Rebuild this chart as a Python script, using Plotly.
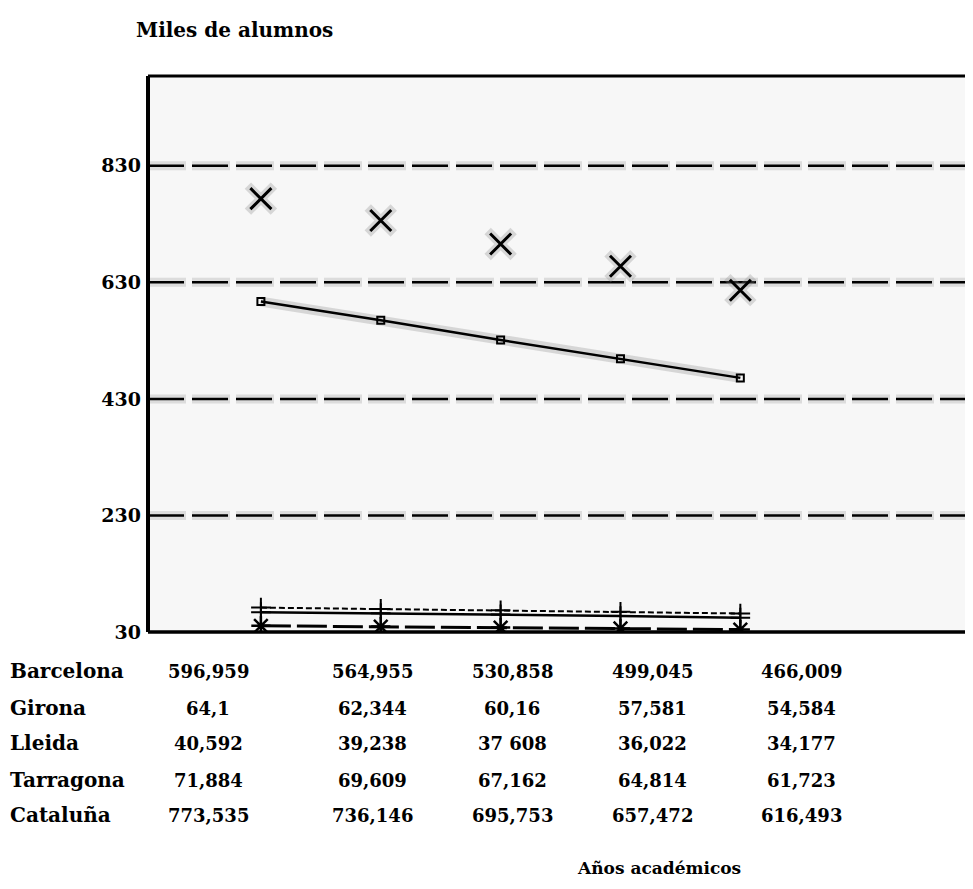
import plotly.graph_objects as go

# ---- data ----
years = [1, 2, 3, 4, 5]
barcelona = [596.959, 564.955, 530.858, 499.045, 466.009]
girona = [64.1, 62.344, 60.16, 57.581, 54.584]
lleida = [40.592, 39.238, 37.608, 36.022, 34.177]
tarragona = [71.884, 69.609, 67.162, 64.814, 61.723]
cataluna = [773.535, 736.146, 695.753, 657.472, 616.493]

row_labels = ["Barcelona", "Girona", "Lleida", "Tarragona", "Cataluña"]
table_text = [
    ["596,959", "564,955", "530,858", "499,045", "466,009"],
    ["64,1", "62,344", "60,16", "57,581", "54,584"],
    ["40,592", "39,238", "37 608", "36,022", "34,177"],
    ["71,884", "69,609", "67,162", "64,814", "61,723"],
    ["773,535", "736,146", "695,753", "657,472", "616,493"],
]
y_ticks = [30, 230, 430, 630, 830]
y_title = "Miles de alumnos"
x_title = "Años académicos"

W, H = 973, 889
L, R, T, B = 140, 0, 68, 265
FONT = "DejaVu Serif"

def px_x(px):
    return (px - L) / (W - L - R)

def px_y(py):
    return 1 - (py - T) / (H - T - B)

fig = go.Figure()

# dashed gridlines with grey halo
for v in y_ticks[1:]:
    fig.add_shape(type="line", xref="paper", yref="y", x0=0, x1=1, y0=v, y1=v,
                  line=dict(color="rgba(140,140,140,0.25)", width=9, dash="38px,6px"),
                  layer="below")
    fig.add_shape(type="line", xref="paper", yref="y", x0=0, x1=1, y0=v, y1=v,
                  line=dict(color="black", width=2.5, dash="36px,8px"),
                  layer="below")

# bottom series
fig.add_trace(go.Scatter(x=years, y=tarragona, mode="lines+markers", name="Tarragona",
                         line=dict(color="black", width=2, dash="6px,3px"),
                         marker=dict(symbol="cross-thin-open", size=14, color="black",
                                     line=dict(color="black", width=2))))
fig.add_trace(go.Scatter(x=years, y=girona, mode="lines+markers", name="Girona",
                         line=dict(color="black", width=2.5),
                         marker=dict(symbol="cross-thin-open", size=14, color="black",
                                     line=dict(color="black", width=2))))
fig.add_trace(go.Scatter(x=years, y=lleida, mode="lines+markers", name="Lleida",
                         line=dict(color="black", width=3, dash="30px,6px"),
                         marker=dict(symbol="asterisk-open", size=16, color="black",
                                     line=dict(color="black", width=2.5))))

# Barcelona
fig.add_trace(go.Scatter(x=years, y=barcelona, mode="lines", name="halo",
                         line=dict(color="rgba(140,140,140,0.3)", width=10),
                         hoverinfo="skip"))
fig.add_trace(go.Scatter(x=years, y=barcelona, mode="lines+markers", name="Barcelona",
                         line=dict(color="black", width=2.5),
                         marker=dict(symbol="square-open", size=7, color="black",
                                     line=dict(color="black", width=2))))

# Cataluña
fig.add_trace(go.Scatter(x=years, y=cataluna, mode="markers", name="halo2",
                         marker=dict(symbol="x-thin-open", size=26,
                                     color="rgba(140,140,140,0.3)",
                                     line=dict(color="rgba(140,140,140,0.3)", width=9)),
                         hoverinfo="skip"))
fig.add_trace(go.Scatter(x=years, y=cataluna, mode="markers", name="Cataluña",
                         marker=dict(symbol="x-thin-open", size=21, color="black",
                                     line=dict(color="black", width=3))))

# frame
fig.add_shape(type="line", xref="paper", yref="paper", x0=0, x1=0, y0=0, y1=1,
              line=dict(color="black", width=4))
fig.add_shape(type="line", xref="paper", yref="paper", x0=0, x1=1, y0=1, y1=1,
              line=dict(color="black", width=3))
fig.add_shape(type="line", xref="paper", yref="paper", x0=0, x1=1, y0=0, y1=0,
              line=dict(color="black", width=3.5))
fig.add_shape(type="line", xref="paper", yref="paper", x0=0.997, x1=0.997, y0=0, y1=1,
              line=dict(color="black", width=1.5, dash="dot"))

# table
col_px = [200, 364, 504, 644, 793]
row_py = [663, 700, 735, 772, 807]
for i, lab in enumerate(row_labels):
    fig.add_annotation(text=f"<b>{lab}</b>", xref="paper", yref="paper",
                       x=px_x(0), y=px_y(row_py[i]), xanchor="left", yanchor="middle",
                       showarrow=False, font=dict(family=FONT, size=20, color="black"))
    for j, t in enumerate(table_text[i]):
        fig.add_annotation(text=f"<b>{t}</b>", xref="paper", yref="paper",
                           x=px_x(col_px[j]), y=px_y(row_py[i]), xanchor="center",
                           yanchor="middle", showarrow=False,
                           font=dict(family=FONT, size=18, color="black"))

fig.add_annotation(text=f"<b>{y_title}</b>", xref="paper", yref="paper",
                   x=px_x(126), y=px_y(22), xanchor="left", yanchor="middle",
                   showarrow=False, font=dict(family=FONT, size=20, color="black"))
fig.add_annotation(text=f"<b>{x_title}</b>", xref="paper", yref="paper",
                   x=px_x(651), y=px_y(860), xanchor="center", yanchor="middle",
                   showarrow=False, font=dict(family=FONT, size=17, color="black"))

fig.update_layout(
    width=W, height=H,
    margin=dict(l=L, r=R, t=T, b=B),
    paper_bgcolor="white",
    plot_bgcolor="#f7f7f7",
    showlegend=False,
    xaxis=dict(range=[0.058, 7.008], showgrid=False, zeroline=False,
               showticklabels=False, ticks=""),
    yaxis=dict(range=[30, 984], tickvals=y_ticks, ticktext=[f"<b>{v}</b>" for v in y_ticks],
               showgrid=False, zeroline=False, ticks="", ticklabelstandoff=6,
               tickfont=dict(family=FONT, size=19, color="black")),
)

fig.write_html("out.html")
